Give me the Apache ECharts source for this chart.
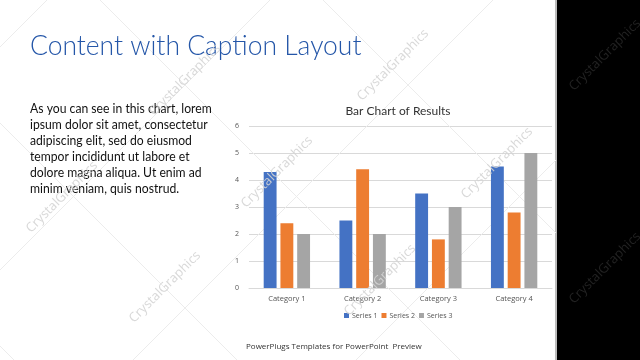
<!DOCTYPE html>
<html><head><meta charset="utf-8">
<script src="https://cdn.jsdelivr.net/npm/echarts@6/dist/echarts.min.js"></script>
<style>html,body{margin:0;padding:0;background:#fff}#c{width:640px;height:360px}</style>
</head><body><div id="c"></div>
<script>
const categories = ['Category 1', 'Category 2', 'Category 3', 'Category 4'];
const series1 = [4.3, 2.5, 3.5, 4.5];
const series2 = [2.4, 4.4, 1.8, 2.8];
const series3 = [2, 2, 3, 5];
const seriesNames = ['Series 1', 'Series 2', 'Series 3'];
const yTicks = [0, 1, 2, 3, 4, 5, 6];
const slideTitle = 'Content with Caption Layout';
const captionLines = [
  'As you can see in this chart, lorem',
  'ipsum dolor sit amet, consectetur',
  'adipiscing elit, sed do eiusmod',
  'tempor incididunt ut labore et',
  'dolore magna aliqua. Ut enim ad',
  'minim veniam, quis nostrud.'
];
const chartTitle = 'Bar Chart of Results';
const footer = 'PowerPlugs Templates for PowerPoint  Preview';
const watermark = 'CrystalGraphics';

const chart = echarts.init(document.getElementById('c'), null, {renderer: 'canvas'});
const colors = ['#4472C4', '#ED7D31', '#A5A5A5'];
const FONT = 'Lato, "Open Sans", sans-serif';

const graphics = [];
// black strip
graphics.push({type: 'rect', shape: {x: 557, y: 0, width: 83, height: 360}, style: {fill: '#000'}, z: 0});
graphics.push({type: 'rect', shape: {x: 555, y: 0, width: 2, height: 360}, style: {fill: '#bbb'}, z: 0});
// faint diagonal lines
const dl = [];
[-346, -123, 100, 323].forEach(c => dl.push([[Math.max(0, c), Math.max(0, -c)], [Math.min(556, 360 + c), Math.min(556, 360 + c) - c]]));
[47, 270, 493, 716].forEach(c => dl.push([[Math.max(0, c - 360), Math.min(360, c)], [Math.min(556, c), c - Math.min(556, c)]]));
dl.forEach(p => graphics.push({type: 'line', shape: {x1: p[0][0], y1: p[0][1], x2: p[1][0], y2: p[1][1]}, style: {stroke: '#ececec', lineWidth: 1}, z: 1, silent: true}));
// watermarks
[[185, 80, '#d4d4d4'], [393, 65, '#d4d4d4'], [497, 163, '#d4d4d4'], [277, 172, '#d4d4d4'], [62, 197, '#d4d4d4'], [165, 287, '#d4d4d4'], [380, 280, '#d4d4d4'], [605, 55, '#262626'], [605, 268, '#262626']].forEach(w => {
  graphics.push({type: 'text', x: w[0], y: w[1], rotation: Math.PI / 4, z: 50, silent: true,
    style: {text: watermark, fill: w[2], font: '13px "Open Sans", sans-serif', textAlign: 'center', textVerticalAlign: 'middle', opacity: 0.9}});
});
// slide title
graphics.push({type: 'text', x: 30, y: 33, scaleX: 0.98, z: 10, style: {text: slideTitle, fill: '#2456A8', font: '300 27px ' + FONT}});
// caption
graphics.push({type: 'text', x: 30, y: 100, scaleX: 0.87, z: 10, style: {text: captionLines.join('\n'), fill: '#111', font: '14px ' + FONT, lineHeight: 16}});
// footer
graphics.push({type: 'text', left: 246, top: 343, z: 10, style: {text: footer, fill: '#333', font: '8px "Open Sans", sans-serif'}});

chart.setOption({
  animation: false,
  backgroundColor: '#fff',
  color: colors,
  title: {text: chartTitle, left: 393, top: 100, textAlign: 'center',
    textStyle: {fontFamily: FONT, fontSize: 12, fontWeight: 'normal', color: '#333'}},
  legend: {data: seriesNames, left: 339, top: 307, itemWidth: 5, itemHeight: 5, itemGap: 4,
    icon: 'rect', textStyle: {fontSize: 7, color: '#555', fontFamily: '"Open Sans", sans-serif', padding: [0, 0, 0, -2]}},
  grid: {left: 249, right: 88, top: 126, bottom: 72, containLabel: false},
  xAxis: {type: 'category', data: categories,
    axisLine: {lineStyle: {color: '#d9d9d9'}}, axisTick: {show: false},
    axisLabel: {fontSize: 7.5, color: '#555', margin: 7, fontFamily: '"Open Sans", sans-serif'}},
  yAxis: {type: 'value', min: yTicks[0], max: yTicks[yTicks.length - 1], interval: 1,
    axisLine: {show: false}, axisTick: {show: false},
    splitLine: {lineStyle: {color: '#d9d9d9'}},
    axisLabel: {fontSize: 7, color: '#555', margin: 10, fontFamily: '"Open Sans", sans-serif'}},
  series: [
    {name: seriesNames[0], type: 'bar', data: series1, barWidth: '17%', barGap: '30%'},
    {name: seriesNames[1], type: 'bar', data: series2, barWidth: '17%', barGap: '30%'},
    {name: seriesNames[2], type: 'bar', data: series3, barWidth: '17%', barGap: '30%'}
  ],
  graphic: graphics
});
</script></body></html>
